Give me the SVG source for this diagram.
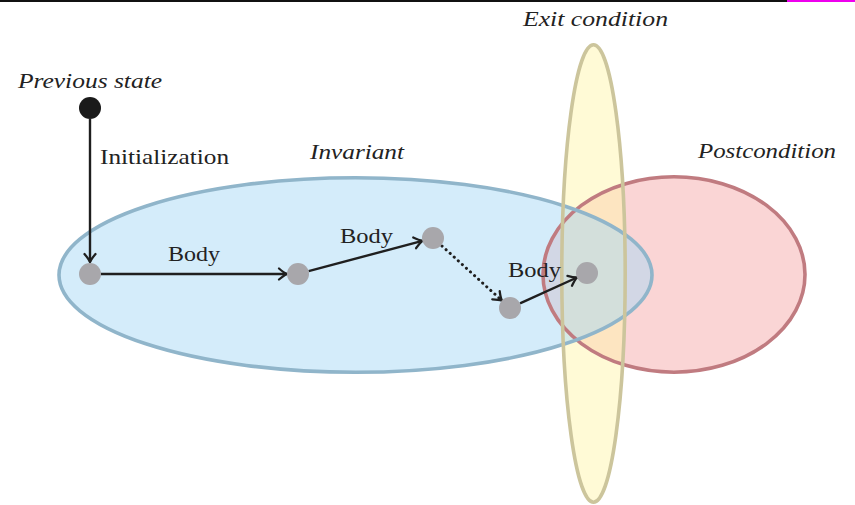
<svg xmlns="http://www.w3.org/2000/svg" width="855" height="505" viewBox="0 0 855 505">
<defs>
<style>
.lbl{font-family:"Liberation Serif","DejaVu Serif",serif;font-size:22px;fill:#222}
.it{font-family:"Liberation Serif","DejaVu Serif",serif;font-style:italic;font-size:20px;fill:#222}
.node{fill:#a8a7ab}
.edge{stroke:#1f1f1f;stroke-width:2.4;fill:none;marker-end:url(#arr)}
.dot{stroke-dasharray:0.1 5.4;stroke-linecap:round;stroke-width:3}
</style>
<marker id="arr" markerUnits="userSpaceOnUse" markerWidth="20" markerHeight="20" refX="0" refY="0" orient="auto" viewBox="-12 -10 20 20" overflow="visible">
<path d="M-8,-5.5 Q-3,-1.2 0,0 Q-3,1.2 -8,5.5" fill="none" stroke="#1f1f1f" stroke-width="2.3" stroke-linecap="round" stroke-linejoin="round"/>
</marker>
</defs>
<rect x="0" y="0" width="855" height="505" fill="#fff"/>
<rect x="0" y="0" width="787" height="2" fill="#111"/>
<rect x="787" y="0" width="68" height="2" fill="#ee00ee"/>
<g id="regions">
<g id="postcondition-fill"><ellipse cx="674" cy="274.5" rx="131" ry="97.7" fill="#f5abab" fill-opacity="0.5"/></g>
<g id="exit-fill"><ellipse cx="593.5" cy="273.5" rx="31.7" ry="228.7" fill="#fff5ad" fill-opacity="0.5"/></g>
<g id="invariant-fill"><ellipse cx="355.5" cy="275" rx="296.5" ry="97.3" fill="#a9d9f5" fill-opacity="0.5"/></g>
<ellipse cx="674" cy="274.5" rx="131" ry="97.7" fill="none" stroke="#c07b80" stroke-width="3.6"/>
<ellipse cx="355.5" cy="275" rx="296.5" ry="97.3" fill="none" stroke="#90b5ca" stroke-width="3.6"/>
<ellipse cx="593.5" cy="273.5" rx="31.7" ry="228.7" fill="none" stroke="#ccc59c" stroke-width="3.6"/>
</g>
<g id="region-labels">
<text class="it" x="18" y="88" textLength="144" lengthAdjust="spacingAndGlyphs">Previous state</text>
<text class="it" x="523" y="26" textLength="145" lengthAdjust="spacingAndGlyphs">Exit condition</text>
<text class="it" x="310" y="159" textLength="94" lengthAdjust="spacingAndGlyphs">Invariant</text>
<text class="it" x="698" y="158" textLength="138" lengthAdjust="spacingAndGlyphs">Postcondition</text>
</g>
<g id="connectors">
<line class="edge" x1="90" y1="119" x2="90" y2="262"/>
<line class="edge" x1="101" y1="274" x2="287" y2="274"/>
<line class="edge" x1="308.6" y1="271.2" x2="422.4" y2="240.8"/>
<line class="edge dot" x1="442" y1="246" x2="501.9" y2="300.6"/>
<line class="edge" x1="520" y1="303.4" x2="577" y2="277.5"/>
<text class="lbl" x="100" y="164" textLength="129" lengthAdjust="spacingAndGlyphs">Initialization</text>
<text class="lbl" x="168" y="261" textLength="52" lengthAdjust="spacingAndGlyphs">Body</text>
<text class="lbl" x="340" y="243" textLength="53" lengthAdjust="spacingAndGlyphs">Body</text>
<text class="lbl" x="508" y="277" textLength="53" lengthAdjust="spacingAndGlyphs">Body</text>
</g>
<g id="prev"><circle cx="90" cy="108" r="11" fill="#1a1a1a"/></g>
<g id="s0"><circle class="node" cx="90" cy="274" r="11"/></g>
<g id="s1"><circle class="node" cx="298" cy="274" r="11"/></g>
<g id="s2"><circle class="node" cx="433" cy="238" r="11"/></g>
<g id="s3"><circle class="node" cx="510" cy="308" r="11"/></g>
<g id="s4"><circle class="node" cx="587" cy="273" r="11"/></g>
</svg>
